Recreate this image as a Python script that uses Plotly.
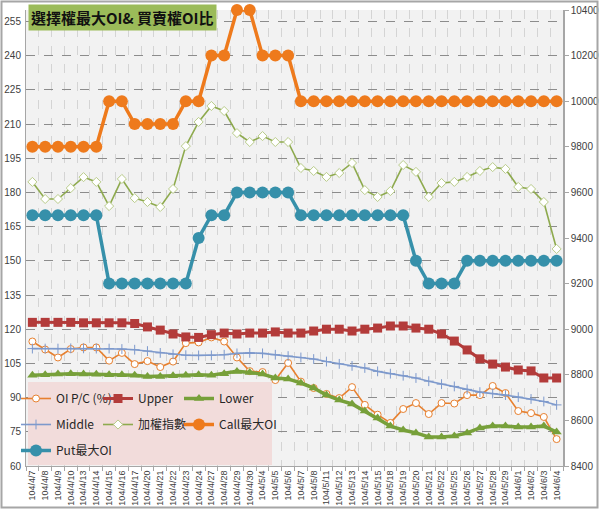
import plotly.graph_objects as go

categories = ["104/4/7","104/4/8","104/4/9","104/4/10","104/4/13","104/4/14","104/4/15","104/4/16",
              "104/4/17","104/4/20","104/4/21","104/4/22","104/4/23","104/4/24","104/4/27","104/4/28",
              "104/4/29","104/4/30","104/5/4","104/5/5","104/5/6","104/5/7","104/5/8","104/5/11",
              "104/5/12","104/5/13","104/5/14","104/5/15","104/5/18","104/5/19","104/5/20","104/5/21",
              "104/5/22","104/5/25","104/5/26","104/5/27","104/5/28","104/5/29","104/6/1","104/6/2",
              "104/6/3","104/6/4"]

oi_pc = [114.6,111.1,107.6,111.3,112.0,112.0,106.2,109.6,104.7,106.0,103.4,105.8,113.9,114.2,116.4,114.6,
         107.6,101.6,101.2,97.7,105.2,97.0,94.2,91.6,89.8,94.6,86.8,82.5,78.9,85.0,87.6,82.8,
         87.6,87.4,91.1,91.1,95.1,92.0,84.1,83.2,81.5,71.8]

upper = [123.0,123.0,123.0,123.0,122.8,122.8,122.8,122.8,122.5,121.0,119.6,117.9,116.6,116.4,117.6,118.3,
         117.9,118.3,118.3,118.8,118.3,118.3,119.2,120.0,120.0,119.2,120.0,120.5,121.4,121.4,120.5,120.0,
         117.9,114.8,110.9,107.0,104.7,103.4,102.1,101.7,98.6,98.6]

lower = [99.8,100.0,100.3,100.5,100.3,100.2,100.0,100.0,99.8,99.3,99.3,99.6,99.8,100.0,99.8,100.5,
         101.5,101.0,100.3,98.6,98.2,96.4,94.2,91.1,88.9,87.2,84.1,81.0,77.5,75.8,74.5,72.7,
         72.7,73.2,74.5,76.7,77.5,77.5,77.1,77.1,77.5,74.9]

middle = [111.5,111.5,111.5,111.6,111.6,111.5,111.5,111.3,111.0,110.4,109.6,109.0,108.6,108.5,108.5,108.8,
          109.4,109.6,109.4,108.8,108.2,107.6,106.9,105.8,104.8,103.9,103.0,101.5,100.5,99.6,98.6,97.2,
          95.9,94.9,93.6,92.4,91.8,91.1,90.2,89.4,88.3,86.8]

taiex = [9646,9571,9571,9619,9667,9646,9540,9659,9575,9558,9536,9615,9803,9909,9979,9957,
         9860,9821,9847,9821,9821,9707,9694,9668,9685,9729,9610,9580,9606,9720,9690,9580,
         9641,9646,9668,9694,9711,9703,9624,9615,9558,9352]

call_max_oi = [9800,9800,9800,9800,9800,9800,10000,10000,9900,9900,9900,9900,10000,10000,10200,10200,
               10400,10400,10200,10200,10200,10000,10000,10000,10000,10000,10000,10000,10000,10000,10000,10000,
               10000,10000,10000,10000,10000,10000,10000,10000,10000,10000]

put_max_oi = [9500,9500,9500,9500,9500,9500,9200,9200,9200,9200,9200,9200,9200,9400,9500,9500,
              9600,9600,9600,9600,9600,9500,9500,9500,9500,9500,9500,9500,9500,9500,9300,9200,
              9200,9200,9300,9300,9300,9300,9300,9300,9300,9300]

left_ticks = [60,75,90,105,120,135,150,165,180,195,210,225,240,255]
right_ticks = [8400,8600,8800,9000,9200,9400,9600,9800,10000,10200,10400]
right_tick_labels = ["8400","8600","8800","9000","9200","9400","9600","9800","10000","10200","10400"]

title_text = "選擇權最大OI& 買賣權OI比"

fig = go.Figure()

fig.add_trace(go.Scatter(x=categories, y=oi_pc, name="OI P/C (%)", mode="lines+markers",
                         line=dict(color="#e7802f", width=1.6),
                         marker=dict(symbol="circle", size=7, color="white",
                                     line=dict(color="#e7802f", width=1)),
                         yaxis="y", legend="legend", legendgroup="g1"))
fig.add_trace(go.Scatter(x=categories, y=upper, name="Upper", mode="lines+markers",
                         line=dict(color="#b33b3a", width=3),
                         marker=dict(symbol="square", size=9, color="#b33b3a"),
                         yaxis="y", legend="legend2", legendgroup="g2"))
fig.add_trace(go.Scatter(x=categories, y=lower, name="Lower", mode="lines+markers",
                         line=dict(color="#77a03a", width=3.5),
                         marker=dict(symbol="triangle-up", size=9, color="#77a03a"),
                         yaxis="y", legend="legend3", legendgroup="g3"))
fig.add_trace(go.Scatter(x=categories, y=middle, name="Middle", mode="lines+markers",
                         line=dict(color="#7d99cc", width=1.6),
                         marker=dict(symbol="cross-thin-open", size=7,
                                     line=dict(color="#7d99cc", width=1)),
                         yaxis="y", legend="legend", legendgroup="g4"))
fig.add_trace(go.Scatter(x=categories, y=taiex, name="加權指數", mode="lines+markers",
                         line=dict(color="#8eaa4e", width=1.6),
                         marker=dict(symbol="diamond", size=7, color="white",
                                     line=dict(color="#b9cc8a", width=1)),
                         yaxis="y2", legend="legend2", legendgroup="g5"))
fig.add_trace(go.Scatter(x=categories, y=call_max_oi, name="Call最大OI", mode="lines+markers",
                         line=dict(color="#ee7a1c", width=3.5),
                         marker=dict(symbol="circle", size=12, color="#ee7a1c"),
                         cliponaxis=False, yaxis="y2", legend="legend3", legendgroup="g6"))
fig.add_trace(go.Scatter(x=categories, y=put_max_oi, name="Put最大OI", mode="lines+markers",
                         line=dict(color="#3690aa", width=3.5),
                         marker=dict(symbol="circle", size=12, color="#3690aa"),
                         cliponaxis=False, yaxis="y2", legend="legend", legendgroup="g7"))

L, R, T, B = 26, 37, 10, 44
W, H = 600, 510
PW, PH = W - L - R, H - T - B

def px_x(p):
    return (p - L) / PW

def px_y(p):
    return (H - B - p) / PH

tick_font = dict(family="Liberation Sans, Arial, sans-serif", size=10, color="#404040")
legend_font = dict(family="Noto Sans CJK TC, sans-serif", size=12, color="#262626")

def legend_at(px_left):
    return dict(orientation="v", x=px_x(px_left), xanchor="left", y=px_y(384), yanchor="top",
                bgcolor="rgba(0,0,0,0)", font=legend_font, traceorder="grouped",
                tracegroupgap=7, borderwidth=0)

fig.update_layout(
    width=W, height=H,
    margin=dict(l=L, r=R, t=T, b=B, autoexpand=False),
    paper_bgcolor="white",
    plot_bgcolor="#f2f2f2",
    showlegend=True,
    xaxis=dict(type="category", range=[-0.5, len(categories) - 0.5], tickmode="array",
               tickvals=categories, ticktext=categories,
               tickangle=-90, tickson="boundaries",
               tickfont=dict(family="Liberation Sans, Arial, sans-serif", size=9, color="#404040"),
               showgrid=True, gridcolor="#d4d4d4", griddash="dash", gridwidth=1,
               showline=True, linecolor="#a6a6a6", linewidth=1,
               ticks="outside", ticklen=4, tickcolor="#a6a6a6", zeroline=False),
    yaxis=dict(range=[60, 260], tickmode="array", tickvals=left_ticks,
               showgrid=True, gridcolor="#8c8c8c", griddash="dash", gridwidth=1,
               showline=True, linecolor="#a6a6a6", linewidth=1, zeroline=False,
               tickfont=tick_font, ticks="", ticklabelstandoff=2),
    yaxis2=dict(range=[8400, 10400], tickmode="array", tickvals=right_ticks, ticktext=right_tick_labels,
                overlaying="y", side="right", showgrid=False, zeroline=False,
                showline=True, linecolor="#a6a6a6", linewidth=1.5,
                ticks="outside", ticklen=4, tickcolor="#a6a6a6",
                tickfont=tick_font),
    legend=legend_at(16),
    legend2=legend_at(98),
    legend3=legend_at(179),
    shapes=[
        dict(type="rect", xref="paper", yref="paper", x0=px_x(28), x1=px_x(272),
             y0=px_y(465), y1=px_y(382), fillcolor="#f2dcdb", line=dict(width=0), layer="above"),
        dict(type="rect", xref="paper", yref="paper", x0=px_x(1.5), x1=px_x(597.5),
             y0=px_y(507.5), y1=px_y(1.5), fillcolor="rgba(0,0,0,0)",
             line=dict(color="#a6a6a6", width=2), layer="above"),
    ],
    annotations=[
        dict(text="<b>" + title_text + "</b>", xref="paper", yref="paper",
             x=px_x(28), y=px_y(4), xanchor="left", yanchor="top", showarrow=False,
             bgcolor="#9bbb59", borderpad=2,
             font=dict(family="Noto Sans CJK TC, sans-serif", size=15, color="#111111")),
    ],
)

fig.write_html("out.html", config={"displayModeBar": False},
               post_script="document.body.style.margin='0px';document.body.style.overflow='hidden';")
